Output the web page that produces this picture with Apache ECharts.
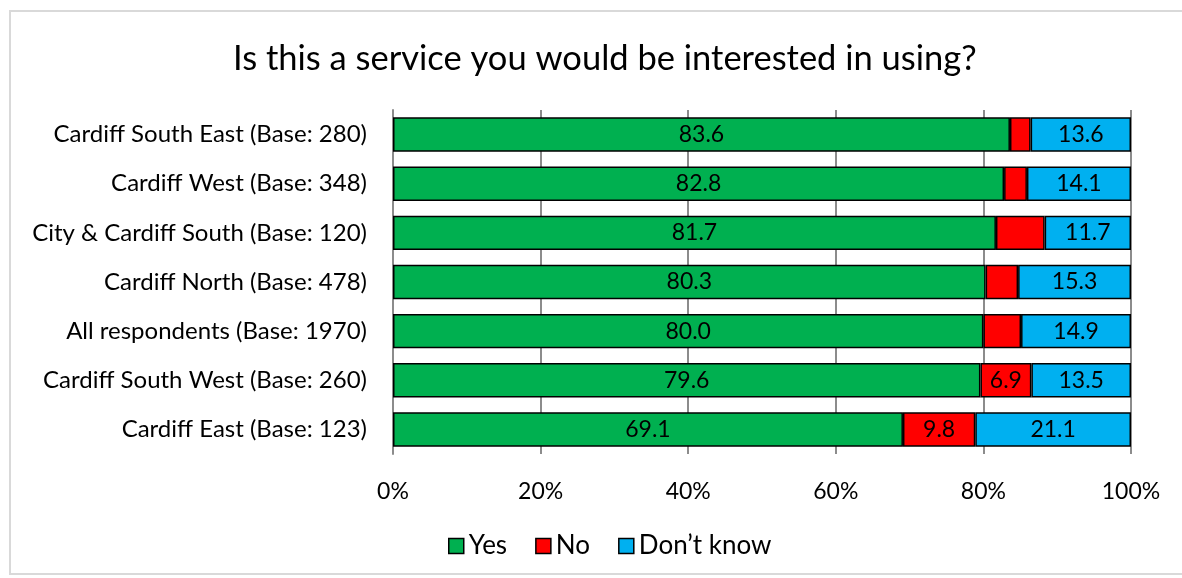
<!DOCTYPE html>
<html><head><meta charset="utf-8">
<script src="https://cdn.jsdelivr.net/npm/echarts@6/dist/echarts.min.js"></script>
<style>html,body{margin:0;padding:0;background:#fff}#c{width:1182px;height:578px}</style>
</head><body><div id="c"></div>
<script>
const categories = ["Cardiff South East (Base: 280)","Cardiff West (Base: 348)","City & Cardiff South (Base: 120)","Cardiff North (Base: 478)","All respondents (Base: 1970)","Cardiff South West (Base: 260)","Cardiff East (Base: 123)"];
const yesValues = [83.6, 82.8, 81.7, 80.3, 80.0, 79.6, 69.1];
const noValues = [2.8, 3.1, 6.6, 4.4, 5.1, 6.9, 9.8];
const dontKnowValues = [13.6, 14.1, 11.7, 15.3, 14.9, 13.5, 21.1];
const tickLabels = ["0%","20%","40%","60%","80%","100%"];
const noLabelMin = 6.8;

const FONT = 'Lato';
const chart = echarts.init(document.getElementById('c'));
const rev = a => a.slice().reverse();
function series(name, data, color, minLabel){
  return {
    name, type:'bar', stack:'s', data: rev(data), barCategoryGap:'30%',
    itemStyle:{color, borderColor:'#000', borderWidth:1.5},
    label:{show:true, position:'inside', color:'#000', fontFamily:FONT, fontSize:23,
      formatter: p => p.value >= minLabel ? p.value.toFixed(1) : ''}
  };
}
chart.setOption({
  animation:false,
  graphic:[{type:'rect', shape:{x:10,y:11,width:1200,height:563}, style:{fill:'none', stroke:'#d9d9d9', lineWidth:2}, z:-10}],
  title:{text:'Is this a service you would be interested in using?', left:228, top:36,
    textStyle:{fontFamily:FONT, fontSize:34.5, fontWeight:'normal', color:'#000'}},
  grid:{left:393, right:51, top:110, height:344, containLabel:false},
  legend:{bottom:14, left:443, icon:'rect', itemWidth:15, itemHeight:15, itemGap:28,
    textStyle:{fontFamily:FONT, fontSize:26, color:'#000'},
    data:[{name:'Yes', itemStyle:{borderColor:'#000',borderWidth:1.5}},{name:'No', itemStyle:{borderColor:'#000',borderWidth:1.5}},{name:'Don\u2019t know', itemStyle:{borderColor:'#000',borderWidth:1.5}}]},
  xAxis:{type:'value', min:0, max:100, interval:20,
    axisLabel:{fontFamily:FONT, fontSize:23, color:'#000', margin:26, formatter:(v)=>tickLabels[Math.round(v/20)]},
    splitLine:{show:true, lineStyle:{color:'#8c8c8c', width:2}},
    axisLine:{show:false}, axisTick:{show:false}},
  yAxis:{type:'category', data: rev(categories),
    axisLabel:{fontFamily:FONT, fontSize:24, color:'#000', margin:26},
    axisLine:{show:true, lineStyle:{color:'#8c8c8c', width:2}}, axisTick:{show:false}},
  series:[
    series('Yes', yesValues, '#00b050', 0),
    series('No', noValues, '#ff0000', noLabelMin),
    series('Don\u2019t know', dontKnowValues, '#00b0f0', 0)
  ]
});
</script></body></html>
